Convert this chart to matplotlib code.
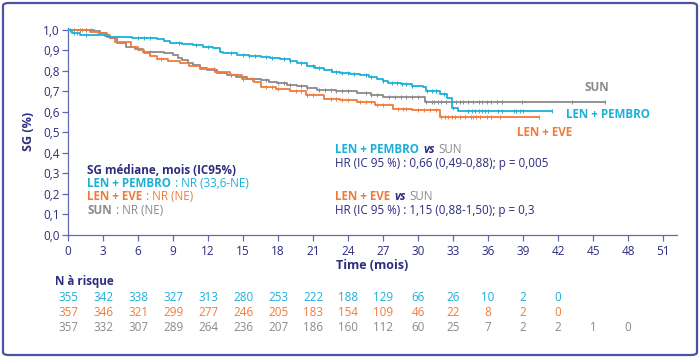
import numpy as np
import matplotlib
matplotlib.use("Agg")
import matplotlib.pyplot as plt
import matplotlib.transforms as mtransforms
from matplotlib.patches import FancyBboxPatch

plt.rcParams['font.family'] = ['Open Sans', 'DejaVu Sans']

NAVY = '#2d2c7f'
AXC = '#6468b0'
CYAN = '#1cb0d9'
ORANGE = '#f27a3a'
GRAY = '#8a8a8a'

## Kaplan-Meier steps (time in months, survival)
pembro_t = [0, 0.3, 1.0, 3.3, 5.5, 7.6, 8.2, 8.7, 9.8, 10.7, 11.6, 12.4, 13.0, 13.3, 14.5,
            15.5, 16.5, 17.3, 18.2, 19.0, 19.6, 20.5, 21.2, 21.9, 22.6, 23.3, 24.2, 25.0,
            25.8, 26.5, 27.0, 27.4, 28.5, 29.5, 30.4, 30.7, 31.9, 32.5, 32.9, 33.4]
pembro_s = [1.0, 0.987, 0.975, 0.968, 0.962, 0.955, 0.945, 0.935, 0.93, 0.926, 0.918, 0.91,
            0.895, 0.886, 0.88, 0.875, 0.87, 0.865, 0.86, 0.85, 0.837, 0.825, 0.815, 0.804,
            0.796, 0.788, 0.783, 0.778, 0.77, 0.763, 0.752, 0.742, 0.735, 0.728, 0.722,
            0.70, 0.686, 0.667, 0.62, 0.603]
pembro_end = 41.5
pembro_cens = [0.2, 0.5, 0.8, 1.5, 6.0, 6.5, 7.0, 9.5, 11.0, 12.0, 14.0, 15.0, 15.5, 16.0,
               17.0, 17.5, 18.5, 19.0, 20.0, 21.0, 21.5, 22.5, 23.0, 23.5, 24.0, 24.5, 25.5,
               26.0, 27.0, 27.8, 28.2, 28.6, 29.0, 29.5, 30.8, 31.2, 31.5, 32.2, 33.0, 34.3,
               34.6, 34.9, 35.2, 35.5, 35.7, 36.0, 36.9, 37.2, 38.2, 38.4, 38.7, 39.0, 41.5]

eve_t = [0, 1.9, 2.6, 3.3, 3.6, 4.0, 5.4, 6.0, 6.5, 7.0, 7.6, 8.6, 9.6, 10.4, 11.3, 12.6,
         13.9, 14.9, 15.9, 16.5, 17.8, 19.0, 20.4, 21.9, 23.3, 24.8, 26.3, 27.9, 29.5, 31.9]
eve_s = [1.0, 0.99, 0.985, 0.975, 0.96, 0.94, 0.915, 0.903, 0.89, 0.875, 0.86, 0.85, 0.84,
         0.825, 0.81, 0.795, 0.78, 0.762, 0.745, 0.722, 0.71, 0.70, 0.683, 0.665, 0.657,
         0.649, 0.632, 0.616, 0.607, 0.576]
eve_end = 40.4
eve_cens = [0.5, 1.2, 8.0, 12.5, 14.5, 15.0, 17.0, 17.5, 18.0, 19.5, 20.0, 20.5, 21.0, 22.5,
            23.0, 23.5, 24.0, 25.0, 25.5, 26.0, 26.5, 27.0, 28.3, 28.7, 29.0, 30.0, 30.5,
            31.0, 31.5, 32.0, 32.3, 32.6, 32.9, 33.2, 33.6, 34.0, 34.5, 34.7, 35.0, 35.3,
            35.9, 36.3, 37.0, 40.4]

sun_t = [0, 2.2, 2.7, 3.2, 3.6, 4.2, 5.0, 5.7, 6.4, 8.2, 9.0, 9.4, 9.8, 10.3, 10.7, 11.3,
         11.9, 12.8, 13.6, 14.4, 15.3, 16.5, 17.2, 17.9, 18.8, 19.6, 20.5, 21.3, 23.0, 24.8,
         26.0, 27.0, 30.6]
sun_s = [1.0, 0.995, 0.985, 0.972, 0.96, 0.935, 0.918, 0.905, 0.894, 0.886, 0.877, 0.865,
         0.853, 0.84, 0.828, 0.815, 0.804, 0.792, 0.78, 0.772, 0.763, 0.755, 0.747, 0.739,
         0.732, 0.725, 0.717, 0.709, 0.70, 0.69, 0.682, 0.673, 0.648]
sun_end = 46.0
sun_cens = [0.5, 1.0, 1.5, 2.0, 7.0, 12.5, 14.0, 15.8, 17.0, 18.0, 18.5, 19.0, 20.0, 20.5,
            21.5, 22.0, 22.5, 23.0, 23.5, 24.0, 25.5, 26.0, 26.5, 27.5, 28.0, 28.5, 29.0,
            29.5, 30.0, 30.7, 31.2, 31.4, 31.7, 32.0, 32.4, 32.9, 33.3, 33.6, 33.9, 34.3,
            34.7, 35.2, 35.5, 35.9, 36.3, 36.8, 37.2, 38.9, 43.2, 46.0]

## numbers at risk
risk_times = [0, 3, 6, 9, 12, 15, 18, 21, 24, 27, 30, 33, 36, 39, 42, 45, 48]
risk_pembro = [355, 342, 338, 327, 313, 280, 253, 222, 188, 129, 66, 26, 10, 2, 0]
risk_eve = [357, 346, 321, 299, 277, 246, 205, 183, 154, 109, 46, 22, 8, 2, 0]
risk_sun = [357, 332, 307, 289, 264, 236, 207, 186, 160, 112, 60, 25, 7, 2, 2, 1, 0]

xticks = np.arange(0, 52, 3)
yticks = np.round(np.arange(0, 1.01, 0.1), 1)

fig = plt.figure(figsize=(7, 3.58), dpi=100)
ax = fig.add_axes([68/700, 1-234.5/358, 609/700, 206.5/358])

def km(t, s, end, cens, color):
    tt = list(t) + [end]
    ss = list(s) + [s[-1]]
    ax.step(tt, ss, where='post', color=color, lw=1.3, zorder=3)
    cens = np.array(cens)
    idx = np.searchsorted(t, cens, side='right') - 1
    ax.plot(cens, np.array(s)[idx], ls='none', marker='|', ms=3.5, mew=0.7,
            color=color, zorder=3)

km(sun_t, sun_s, sun_end, sun_cens, GRAY)
km(eve_t, eve_s, eve_end, eve_cens, ORANGE)
km(pembro_t, pembro_s, pembro_end, pembro_cens, CYAN)

ax.set_xlim(0, 52.2)
ax.set_ylim(0, 1.01)
ax.set_xticks(xticks)
ax.set_yticks(yticks)
ax.set_yticklabels([f"{v:.1f}".replace('.', ',') for v in yticks])
ax.tick_params(colors=AXC, labelcolor=NAVY, labelsize=8.5, length=4, width=0.9, pad=2)
ax.tick_params(axis='x', pad=3.5)
for side in ['top', 'right']:
    ax.spines[side].set_visible(False)
for side in ['left', 'bottom']:
    ax.spines[side].set_color(AXC)
    ax.spines[side].set_linewidth(0.9)
ax.set_xlabel('Time (mois)', color=NAVY, fontsize=9, fontweight='bold', labelpad=1)
ax.set_ylabel('SG (%)', color=NAVY, fontsize=9, fontweight='bold', labelpad=6)

FS = 8.4

def rich(x, y, parts, gap=2.8):
    t = None
    for s, c, w, st in parts:
        if t is None:
            t = ax.text(x, y, s, color=c, fontweight=w, fontstyle=st, fontsize=FS,
                        va='bottom', ha='left')
        else:
            t = ax.annotate(s, xy=(1, 0), xycoords=t, xytext=(gap, 0),
                            textcoords='offset points', va='bottom', ha='left',
                            color=c, fontweight=w, fontstyle=st, fontsize=FS)

## curve labels
ax.text(44.3, 0.72, 'SUN', color=GRAY, fontsize=FS, fontweight='bold', va='center')
ax.text(42.7, 0.588, 'LEN + PEMBRO', color=CYAN, fontsize=FS, fontweight='bold', va='center')
ax.text(38.5, 0.498, 'LEN + EVE', color=ORANGE, fontsize=FS, fontweight='bold', va='center')

## median box
ax.text(1.65, 0.315, 'SG médiane, mois (IC95%)', color=NAVY, fontsize=FS,
        fontweight='bold', va='center')
dy = -0.03
rich(1.65, 0.25 + dy, [('LEN + PEMBRO', CYAN, 'bold', 'normal'),
                       (': NR (33,6-NE)', CYAN, 'normal', 'normal')])
rich(1.65, 0.182 + dy, [('LEN + EVE', ORANGE, 'bold', 'normal'),
                        (': NR (NE)', ORANGE, 'normal', 'normal')])
rich(1.65, 0.117 + dy, [('SUN', GRAY, 'bold', 'normal'),
                        (': NR (NE)', GRAY, 'normal', 'normal')])

## hazard ratios
rich(22.9, 0.413 + dy, [('LEN + PEMBRO', CYAN, 'bold', 'normal'),
                        ('vs', NAVY, 'bold', 'italic'),
                        ('SUN', GRAY, 'normal', 'normal')])
ax.text(22.9, 0.348, 'HR (IC 95 %) : 0,66 (0,49-0,88); p = 0,005', color=NAVY,
        fontsize=FS, va='center')
rich(22.9, 0.185 + dy, [('LEN + EVE', ORANGE, 'bold', 'normal'),
                        ('vs', NAVY, 'bold', 'italic'),
                        ('SUN', GRAY, 'normal', 'normal')])
ax.text(22.9, 0.116, 'HR (IC 95 %) : 1,15 (0,88-1,50); p = 0,3', color=NAVY,
        fontsize=FS, va='center')

## risk table
tr = mtransforms.blended_transform_factory(ax.transData, fig.transFigure)
ax.text(-1.1, 1 - 281.7/358, 'N à risque', transform=tr, color=NAVY, fontsize=FS,
        fontweight='bold', va='center', ha='left', clip_on=False)
for row, color, ypx in [(risk_pembro, CYAN, 297.3), (risk_eve, ORANGE, 312.7),
                        (risk_sun, GRAY, 327.7)]:
    for tm, n in zip(risk_times, row):
        ax.text(tm, 1 - ypx/358, str(n), transform=tr, color=color, fontsize=FS,
                va='center', ha='center', clip_on=False)

## frame around the figure
fig.patches.append(FancyBboxPatch((3/700, 3/358), 694/700, 352/358,
                                  boxstyle='round,pad=0,rounding_size=0.008',
                                  transform=fig.transFigure, fill=False,
                                  edgecolor='#4b52a3', lw=1.6))

fig.savefig('out.png', dpi=100)
